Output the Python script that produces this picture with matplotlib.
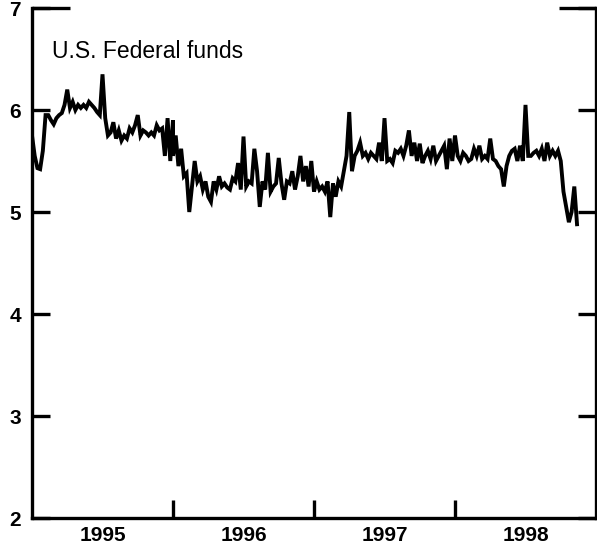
import numpy as np
import matplotlib.pyplot as plt

# weekly U.S. federal funds rate (percent)
rates_1995 = [5.75, 5.55, 5.43, 5.42, 5.6, 5.95, 5.95, 5.9, 5.86, 5.92,
              5.95, 5.97, 6.05, 6.2, 6.02, 6.08, 6.0, 6.05, 6.02, 6.05,
              6.02, 6.08, 6.05, 6.02, 5.98, 5.95, 6.35, 5.92, 5.75, 5.78,
              5.88, 5.72, 5.8, 5.7, 5.75, 5.72, 5.82, 5.78, 5.85, 5.95,
              5.75, 5.8, 5.78, 5.75, 5.78, 5.75, 5.85, 5.8, 5.82, 5.55,
              5.92, 5.5, 5.9]
rates_1996 = [5.55, 5.75, 5.45, 5.62, 5.35, 5.38, 5.0, 5.25, 5.5, 5.3,
              5.35, 5.22, 5.3, 5.15, 5.1, 5.3, 5.22, 5.35, 5.25, 5.28,
              5.24, 5.22, 5.33, 5.3, 5.48, 5.22, 5.74, 5.25, 5.3, 5.28,
              5.62, 5.4, 5.05, 5.3, 5.22, 5.58, 5.2, 5.25, 5.28, 5.53,
              5.28, 5.12, 5.3, 5.28, 5.4, 5.22, 5.35, 5.55, 5.3, 5.45,
              5.25, 5.5]
rates_1997 = [5.2, 5.3, 5.22, 5.25, 5.2, 5.3, 4.95, 5.28, 5.15, 5.3,
              5.25, 5.4, 5.55, 5.98, 5.4, 5.55, 5.6, 5.68, 5.55, 5.58,
              5.52, 5.58, 5.55, 5.52, 5.68, 5.5, 5.92, 5.5, 5.52, 5.48,
              5.6, 5.58, 5.62, 5.55, 5.65, 5.8, 5.55, 5.68, 5.5, 5.67,
              5.48, 5.55, 5.6, 5.52, 5.65, 5.5, 5.55, 5.6, 5.65, 5.42,
              5.72, 5.5]
rates_1998 = [5.75, 5.55, 5.5, 5.58, 5.55, 5.5, 5.52, 5.62, 5.55, 5.65,
              5.52, 5.55, 5.52, 5.72, 5.52, 5.5, 5.45, 5.42, 5.25, 5.45,
              5.55, 5.6, 5.62, 5.5, 5.65, 5.5, 6.05, 5.55, 5.55, 5.58,
              5.6, 5.55, 5.62, 5.5, 5.68, 5.55, 5.6, 5.55, 5.6, 5.5,
              5.2, 5.05, 4.9, 5.0, 5.25, 4.88]

years = [1995, 1996, 1997, 1998]
dates = []
rates = []
for yr, vals in zip(years, [rates_1995, rates_1996, rates_1997, rates_1998]):
    dates += [yr + k / 52 for k in range(len(vals))]
    rates += vals

plt.rcParams['font.family'] = ['Liberation Sans', 'DejaVu Sans']

fig = plt.figure(figsize=(5.97, 5.52), dpi=100)
ax = fig.add_axes([32 / 597, 34 / 552, 564 / 597, 510 / 552])

ax.plot(dates, rates, color='black', linewidth=2.8, solid_joinstyle='miter')

ax.set_xlim(1995, 1999)
ax.set_ylim(2, 7)

# frame: left, bottom, right; no top
ax.spines['top'].set_visible(False)
for s in ['left', 'bottom', 'right']:
    ax.spines[s].set_linewidth(2.4)

ax.set_yticks([2, 3, 4, 5, 6, 7])
ax.tick_params(axis='y', direction='in', length=13, width=2.4, left=True,
               right=True, labelsize=15, pad=8)

# year boundaries as ticks, year names centred between them
ax.set_xticks([1996, 1997, 1998])
ax.set_xticklabels([])
ax.set_xticks([y + 0.5 for y in years], minor=True)
ax.set_xticklabels([str(y) for y in years], minor=True)
ax.tick_params(axis='x', which='major', direction='in', length=13, width=2.4)
ax.tick_params(axis='x', which='minor', length=0, labelsize=15, pad=6)
for lab in ax.get_yticklabels() + ax.get_xticklabels(minor=True):
    lab.set_fontweight('bold')

# longer marks at the top of the scale
tr = ax.get_yaxis_transform()
ax.plot([0, 0.068], [7, 7], color='black', linewidth=2.4, transform=tr,
        clip_on=False, solid_capstyle='butt')
ax.plot([0.935, 1], [7, 7], color='black', linewidth=2.4, transform=tr,
        clip_on=False, solid_capstyle='butt')

ax.text(0.035, 0.915, 'U.S. Federal funds', transform=ax.transAxes,
        fontsize=16.5, va='center', ha='left')

fig.savefig('out.png', dpi=100)
